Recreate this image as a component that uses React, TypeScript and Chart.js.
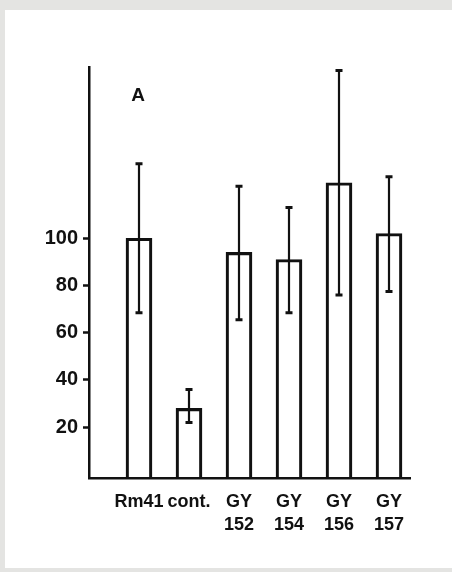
import React, { useEffect, useRef } from "react";
import { Chart, registerables } from "chart.js";

Chart.register(...registerables);

const categories: string[][] = [["Rm41"], ["cont."], ["GY", "152"], ["GY", "154"], ["GY", "156"], ["GY", "157"]];
const categoryPositions = [1, 2, 3, 4, 5, 6];
const means = [100, 28, 94, 91, 123.5, 102];
const errorHigh = [131.5, 36, 122, 113, 171, 126];
const errorLow = [68.5, 22, 65.5, 68.5, 76, 77.5];
const yTicks = [20, 40, 60, 80, 100];
const panelLabel = "A";

const INK = "#111";
const FONT = "'Liberation Sans', Arial, sans-serif";

export default function App() {
  const ref = useRef<HTMLCanvasElement | null>(null);

  useEffect(() => {
    if (!ref.current) return;

    const paperPlugin = {
      id: "paper",
      beforeDraw(chart: any) {
        const { ctx, width, height } = chart;
        ctx.save();
        ctx.fillStyle = "#e4e4e2";
        ctx.fillRect(0, 0, width, height);
        ctx.fillStyle = "#ffffff";
        ctx.fillRect(5, 10, width - 5, height - 14);
        ctx.restore();
      },
    };

    const errorBarPlugin = {
      id: "errorBars",
      afterDatasetsDraw(chart: any) {
        const { ctx } = chart;
        const xs = chart.scales.x;
        const ys = chart.scales.y;
        ctx.save();
        ctx.strokeStyle = INK;
        categoryPositions.forEach((pos, i) => {
          const x = xs.getPixelForValue(pos);
          const yh = ys.getPixelForValue(errorHigh[i]);
          const yl = ys.getPixelForValue(errorLow[i]);
          ctx.lineWidth = 2.2;
          ctx.beginPath();
          ctx.moveTo(x, yh);
          ctx.lineTo(x, yl);
          ctx.stroke();
          ctx.lineWidth = 3;
          ctx.beginPath();
          ctx.moveTo(x - 3.5, yh);
          ctx.lineTo(x + 3.5, yh);
          ctx.moveTo(x - 3.5, yl);
          ctx.lineTo(x + 3.5, yl);
          ctx.stroke();
        });
        // panel letter
        ctx.fillStyle = INK;
        ctx.font = `bold 19px ${FONT}`;
        ctx.textAlign = "center";
        ctx.textBaseline = "middle";
        ctx.fillText(panelLabel, xs.getPixelForValue(categoryPositions[0]) - 1, 96);
        ctx.restore();
      },
    };

    const chart = new Chart(ref.current, {
      type: "bar",
      data: {
        datasets: [
          {
            data: categoryPositions.map((p, i) => ({ x: p, y: means[i] })),
            backgroundColor: "rgba(255,255,255,0)",
            borderColor: INK,
            borderWidth: 2.5,
            borderSkipped: "bottom",
            barThickness: 26,
            base: -1.5,
          },
        ],
      },
      options: {
        responsive: false,
        animation: false,
        layout: { padding: { top: 67, right: 42, left: 0, bottom: 0 } },
        plugins: { legend: { display: false }, tooltip: { enabled: false } },
        scales: {
          x: {
            type: "linear",
            offset: false,
            min: 0,
            max: 6.42,
            afterBuildTicks(scale: any) {
              scale.ticks = categoryPositions.map((v) => ({ value: v }));
            },
            afterFit(scale: any) {
              scale.height = 94;
            },
            grid: { display: false, drawTicks: false, offset: false },
            border: { display: true, color: INK, width: 2.5 },
            ticks: {
              color: INK,
              padding: 12.5,
              maxRotation: 0,
              autoSkip: false,
              font: { family: FONT, size: 18, weight: "bold", lineHeight: 1.28 },
              callback(value: any) {
                const idx = categoryPositions.indexOf(Number(value));
                return idx >= 0 ? categories[idx] : "";
              },
            },
          },
          y: {
            type: "linear",
            min: -1.5,
            max: 172.5,
            afterBuildTicks(scale: any) {
              scale.ticks = yTicks.map((v) => ({ value: v }));
            },
            afterFit(scale: any) {
              scale.width = 89;
            },
            grid: {
              display: true,
              drawOnChartArea: false,
              drawTicks: true,
              tickLength: 6,
              tickColor: INK,
              tickWidth: 2.5,
            },
            border: { display: true, color: INK, width: 2.5 },
            ticks: {
              color: INK,
              padding: 5,
              autoSkip: false,
              font: { family: FONT, size: 20, weight: "bold" },
              callback(value: any) {
                return String(value);
              },
            },
          },
        },
      },
      plugins: [paperPlugin, errorBarPlugin],
    } as any);

    return () => chart.destroy();
  }, []);

  return (
    <div style={{ position: "absolute", left: 0, top: 0, width: 452, height: 572 }}>
      <canvas ref={ref} width={452} height={572} style={{ display: "block" }} />
    </div>
  );
}
